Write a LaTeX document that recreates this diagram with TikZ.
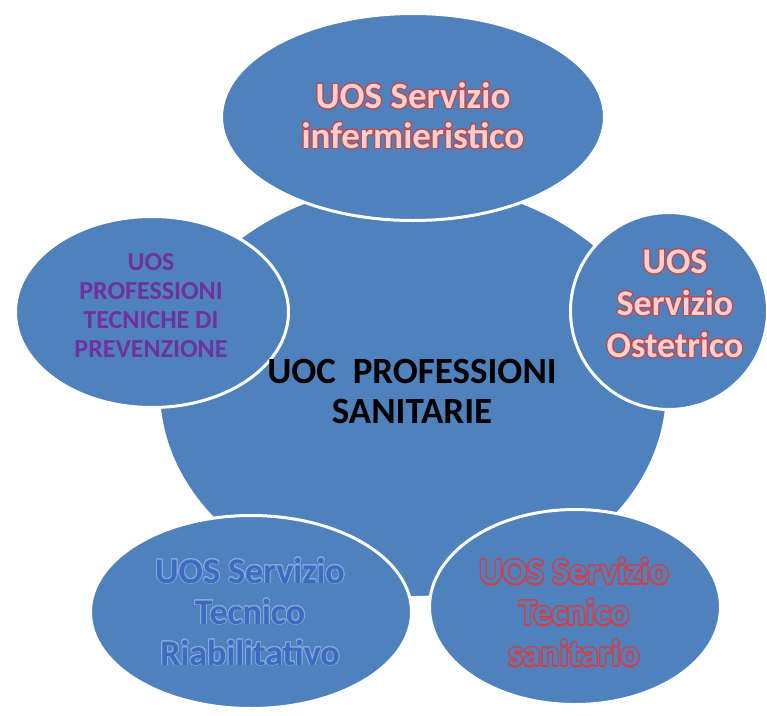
\documentclass[tikz,border=0pt]{standalone}
\usepackage{fontspec}
\setmainfont{Carlito}
\usepackage[copies]{contour}
\usetikzlibrary{shapes.geometric}
\definecolor{shapeblue}{HTML}{4F81BD}
\definecolor{wordred}{HTML}{C8464A}
\definecolor{pinkfill}{HTML}{F6D3D2}
\definecolor{brightred}{HTML}{E0393A}
\definecolor{txtblue}{HTML}{3C6BC0}
\definecolor{glowblue}{HTML}{86A9DC}
\definecolor{txtpurple}{HTML}{7030A0}
\tikzset{
  bubble/.style={ellipse, fill=shapeblue, draw=white, line width=3pt, inner sep=0pt},
  lbl/.style={align=center, inner sep=0pt, font=\bfseries\fontsize{36}{40}\selectfont},
}
\contournumber{32}
\begin{document}
\begin{tikzpicture}[x=1pt,y=-1pt]
\useasboundingbox (0,0) rectangle (767,715);
% shapes
\node[bubble, minimum width=509pt, minimum height=415pt] (core) at (413,390) {};
\node[bubble, minimum width=383pt, minimum height=207pt] (top) at (413,117) {};
\node[bubble, minimum width=273pt, minimum height=191pt] (left) at (152,312) {};
\node[bubble, circle, minimum size=197pt] (right) at (669,311) {};
\node[bubble, minimum width=321pt, minimum height=193pt] (botleft) at (251,612) {};
\node[bubble, minimum width=291pt, minimum height=195pt] (botright) at (575,607) {};
% texts
\node[lbl, text=black, font=\bfseries\fontsize{37}{40}\selectfont] (tcore) at (412,391) {UOC\ \ PROFESSIONI\\SANITARIE};
\node[lbl, text=pinkfill, font=\bfseries\fontsize{37}{40}\selectfont] (ttop) at (413,116) {\contourlength{1pt}\contour{wordred}{UOS Servizio}\\\contourlength{1pt}\contour{wordred}{infermieristico}};
\node[lbl, text=pinkfill, font=\bfseries\fontsize{36}{42}\selectfont] (tright) at (675,304) {\contourlength{1pt}\contour{wordred}{UOS}\\\contourlength{1pt}\contour{wordred}{Servizio}\\\contourlength{1pt}\contour{wordred}{Ostetrico}};
\node[lbl, text=txtpurple, font=\bfseries\fontsize{26}{29}\selectfont] (tleft) at (151,306) {UOS\\PROFESSIONI\\TECNICHE DI\\PREVENZIONE};
\node[lbl, text=txtblue, font=\bfseries\fontsize{36}{41}\selectfont] (tbl) at (250,612) {\contourlength{0.8pt}\contour{glowblue}{UOS Servizio}\\\contourlength{0.8pt}\contour{glowblue}{Tecnico}\\\contourlength{0.8pt}\contour{glowblue}{Riabilitativo}};
\node[lbl, text=shapeblue, font=\bfseries\fontsize{36}{41}\selectfont] (tbr) at (574,613) {\contourlength{1.1pt}\contour{brightred}{UOS Servizio}\\\contourlength{1.1pt}\contour{brightred}{Tecnico}\\\contourlength{1.1pt}\contour{brightred}{sanitario}};
\end{tikzpicture}
\end{document}
